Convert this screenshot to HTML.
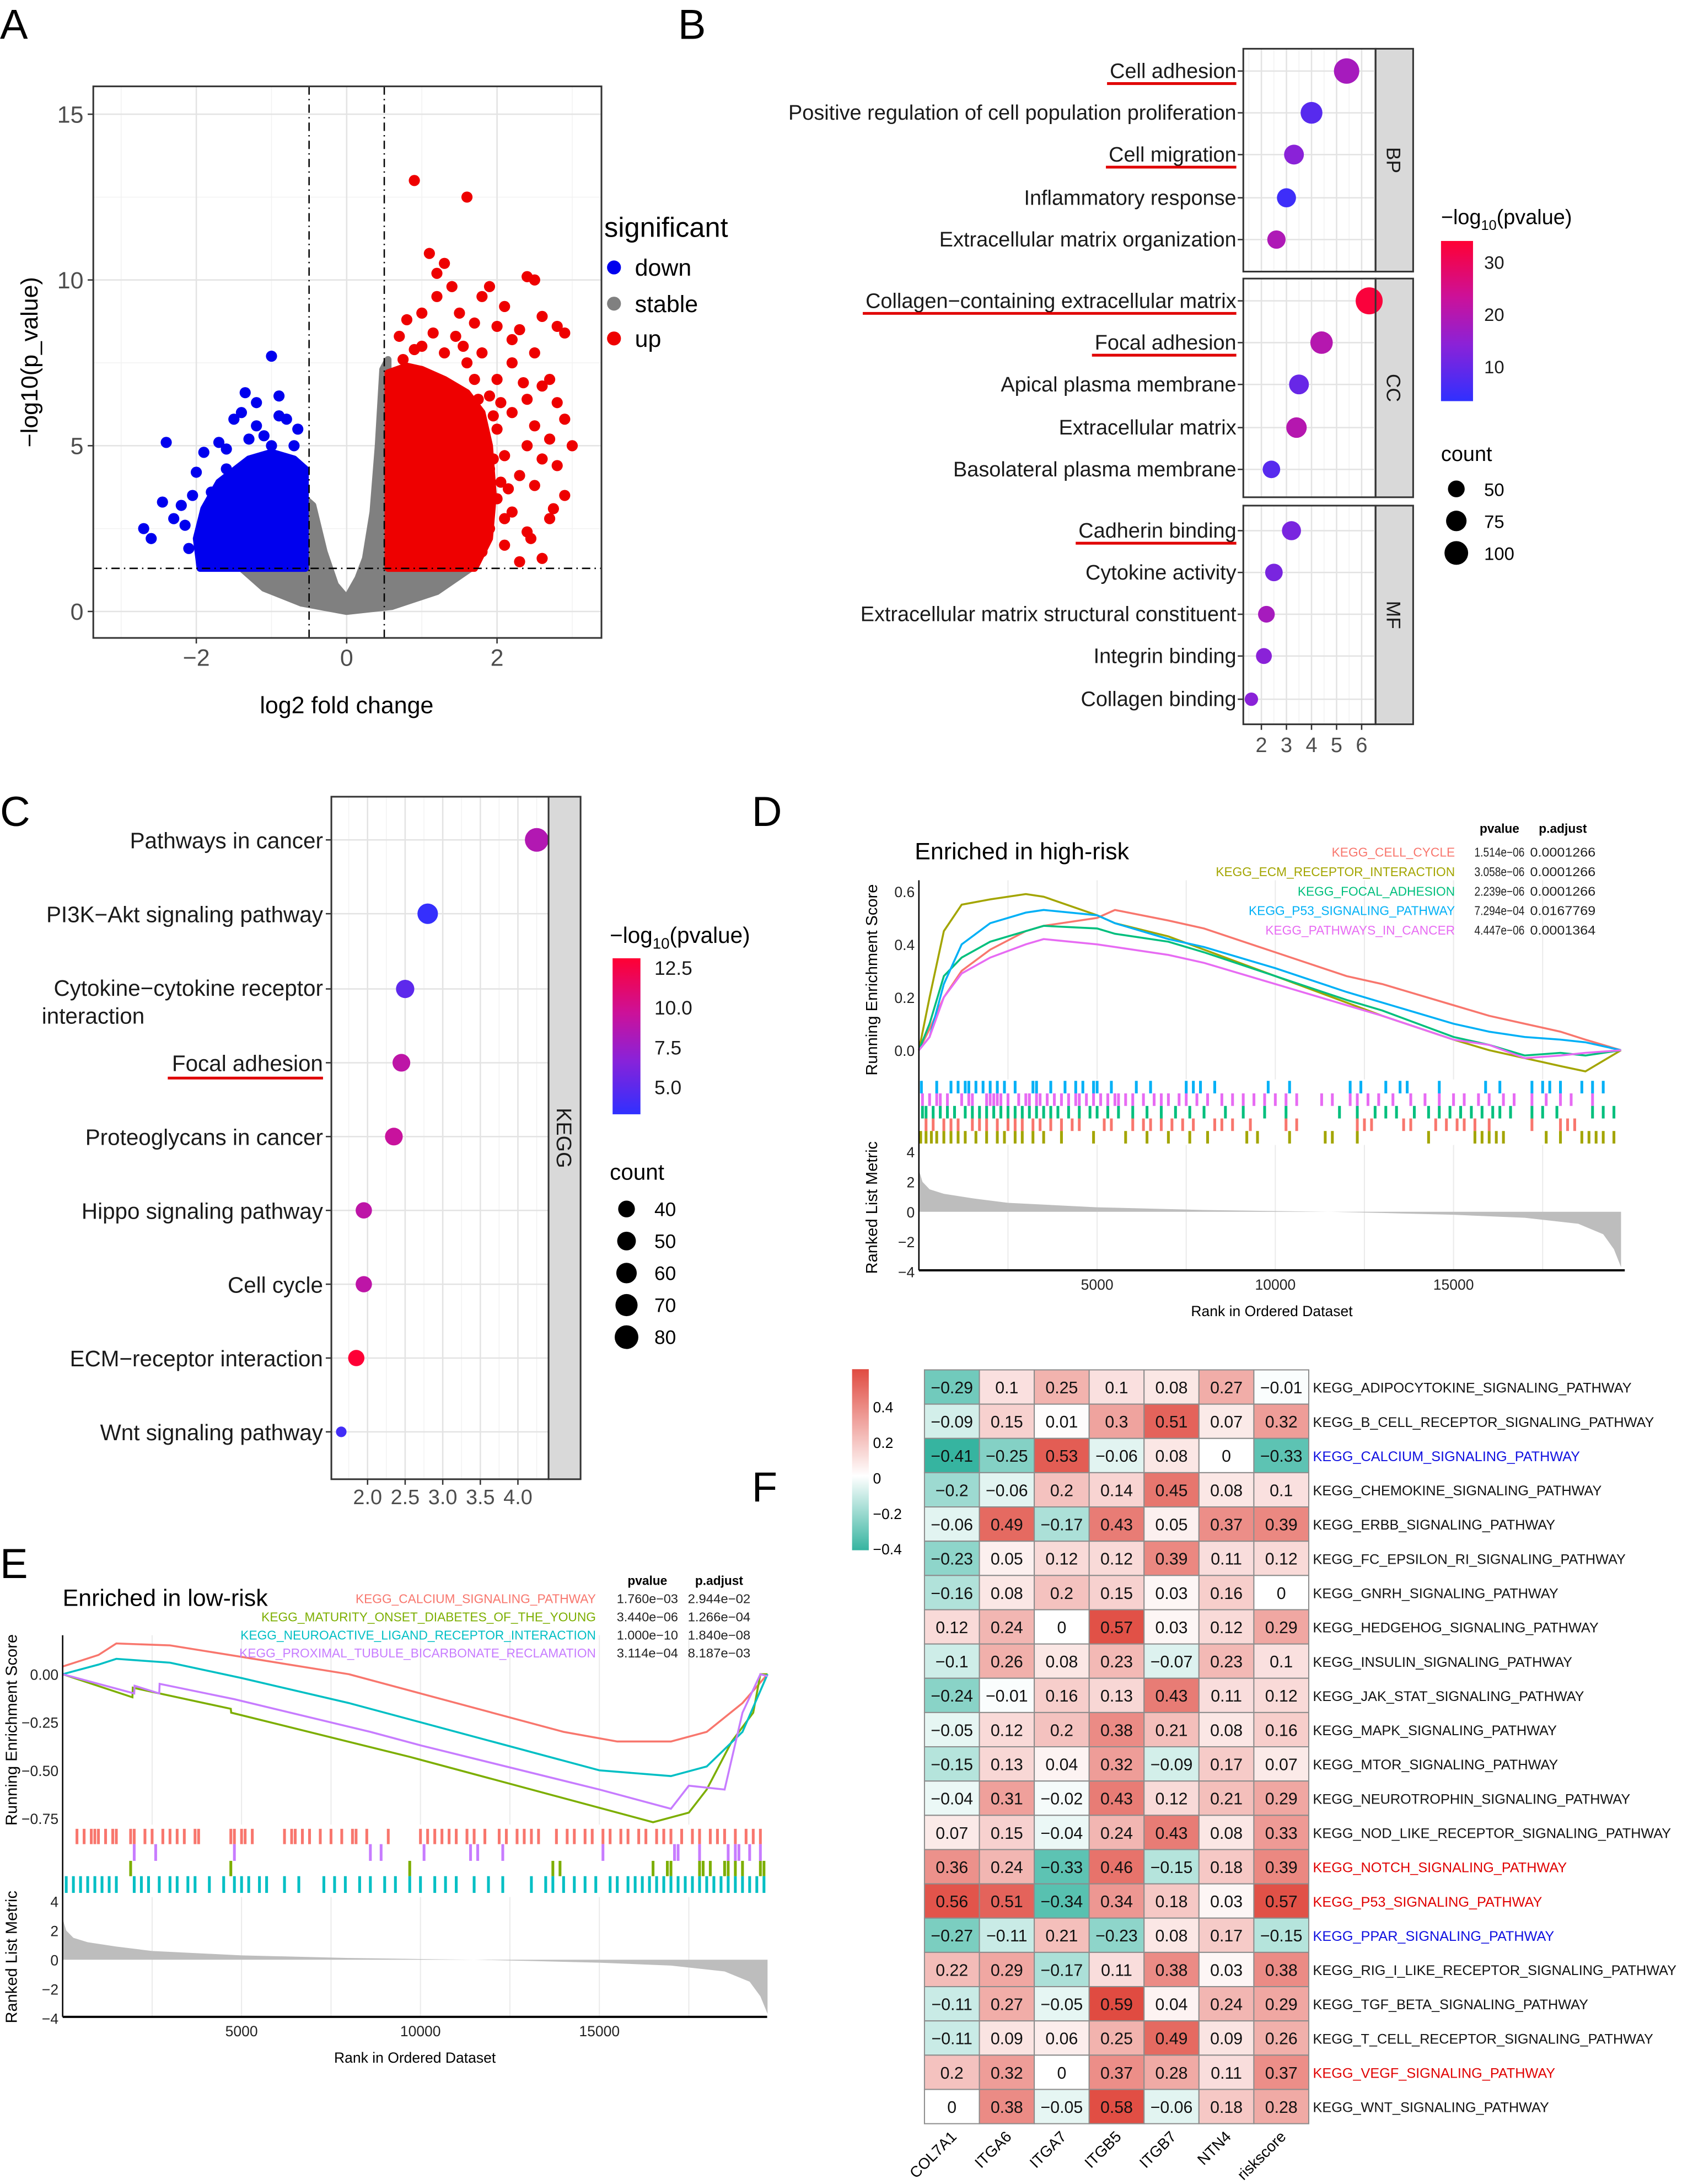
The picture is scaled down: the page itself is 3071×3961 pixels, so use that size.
<!DOCTYPE html>
<html><head><meta charset="utf-8"><title>Figure</title>
<style>
html,body{margin:0;padding:0;background:#fff;}
svg{display:block;font-family:"Liberation Sans",Arial,sans-serif;}
</style></head>
<body>
<svg id="fig" xmlns="http://www.w3.org/2000/svg" width="3071" height="3961" viewBox="0 0 1216 1568" preserveAspectRatio="none">
<defs>
<linearGradient id="gBR" x1="0" y1="1" x2="0" y2="0">
<stop offset="0" stop-color="#3030ff"/><stop offset="0.35" stop-color="#8a22d8"/><stop offset="0.65" stop-color="#cc1199"/><stop offset="1" stop-color="#ff0033"/>
</linearGradient>
<linearGradient id="gHM" x1="0" y1="1" x2="0" y2="0">
<stop offset="0" stop-color="#36b4a0"/><stop offset="0.41" stop-color="#ffffff"/><stop offset="1" stop-color="#e04b41"/>
</linearGradient>
</defs>
<rect x="0" y="0" width="1216" height="1568" fill="#fff"/>
<text x="0" y="28" font-size="30">A</text>
<text x="487" y="28" font-size="30">B</text>
<text x="0" y="593" font-size="30">C</text>
<text x="540" y="593" font-size="30">D</text>
<text x="0" y="1133" font-size="30">E</text>
<text x="540" y="1078" font-size="30">F</text>
</svg>
<script>
// ===== Panel A data =====
const volcUp=[[0.9,13],[1.6,12.5],[1.1,10.8],[1.3,10.5],[1.2,10.2],[2.5,10.0],[2.4,10.1],[1.4,9.8],[1.8,9.5],[2.1,9.2],[2.8,8.6],[2.6,8.9],[2.9,8.4],[2.0,8.6],[1.7,8.7],[2.3,8.5],[1.0,9.0],[0.8,8.8],[2.2,7.5],[2.5,7.8],[2.7,7.0],[2.6,6.8],[2.4,6.4],[2.8,6.3],[2.2,6.0],[2.9,5.8],[2.5,5.6],[2.0,5.5],[2.7,5.2],[3.0,5.0],[2.4,5.0],[2.1,4.7],[2.6,4.6],[2.8,4.4],[1.9,4.3],[2.3,4.1],[2.5,3.8],[2.9,3.5],[2.0,3.4],[2.2,3.0],[2.7,2.8],[1.9,2.5],[2.4,2.4],[2.1,2.0],[1.8,1.8],[2.6,1.6],[2.3,1.5],[1.9,6.5],[2.0,7.0],[1.8,7.8],[2.2,8.2],[1.5,9.0],[1.9,9.8],[1.2,9.5],[0.7,8.3],[2.75,3.1],[2.45,2.2],[2.15,3.7],[1.95,5.9],[2.35,6.9],[1.6,7.5],[1.3,7.8],[1.0,8.0],[1.45,8.3],[0.75,7.6],[1.7,7.0],[2.05,6.3],[1.85,5.2],[2.1,2.8],[0.9,7.9],[1.15,8.4],[1.55,8.0],[1.75,6.4],[1.95,4.6],[2.05,3.9]];
const volcDown=[[-2.7,2.5],[-2.6,2.2],[-2.4,5.1],[-2.3,2.8],[-2.2,3.2],[-2.1,1.9],[-2.0,4.2],[-1.9,4.8],[-1.8,3.6],[-1.7,5.1],[-1.6,4.3],[-1.5,5.8],[-1.4,6.0],[-1.3,5.2],[-1.2,5.6],[-1.2,6.3],[-1.0,7.7],[-0.9,6.5],[-0.8,5.8],[-0.7,5.0],[-1.1,5.3],[-1.55,3.9],[-2.45,3.3],[-2.15,2.6],[-1.35,6.6],[-0.65,5.5],[-0.9,5.9],[-1.0,5.0],[-1.6,4.9],[-2.05,3.5]];
const upCloud=[[0.55,1.3],[0.55,7.2],[0.8,7.4],[1.0,7.3],[1.3,7.0],[1.6,6.6],[1.8,6.0],[1.9,5.0],[1.95,3.5],[1.9,2.2],[1.7,1.3]];
const downCloud=[[-0.55,1.3],[-0.55,4.3],[-0.7,4.6],[-1.0,4.8],[-1.3,4.6],[-1.7,3.9],[-1.9,3.1],[-2.0,2.2],[-1.95,1.3]];
const stableCloud=[[-1.4,1.3],[-1.1,0.7],[-0.6,0.25],[0,0],[0.6,0.15],[1.2,0.6],[1.65,1.3],[0.55,1.3],[0.55,7.6],[0.48,7.3],[0.42,5.0],[0.35,3.0],[0.25,1.6],[0.15,1.0],[0,0.4],[-0.15,0.8],[-0.3,1.8],[-0.45,3.2],[-0.55,3.4],[-0.55,1.3]];
const volcXTicks=[-2,0,2];
const volcYTicks=[0,5,10,15];
// ===== Panel B data =====
const goTerms=["Cell adhesion","Positive regulation of cell population proliferation","Cell migration","Inflammatory response","Extracellular matrix organization","Collagen−containing extracellular matrix","Focal adhesion","Apical plasma membrane","Extracellular matrix","Basolateral plasma membrane","Cadherin binding","Cytokine activity","Extracellular matrix structural constituent","Integrin binding","Collagen binding"];
const goFacet=["BP","BP","BP","BP","BP","CC","CC","CC","CC","CC","MF","MF","MF","MF","MF"];
const goEnrich=[5.4,4.0,3.3,3.0,2.6,6.3,4.4,3.5,3.4,2.4,3.2,2.5,2.2,2.1,1.6];
const goLogP=[18,8,14,5,19,33,20,10,20,8,12,12,18,14,14];
const goCount=[115,85,70,65,60,130,90,70,75,55,65,55,50,45,32];
const goXTicks=[2,3,4,5,6];
const goUnderlined=["Cell adhesion","Cell migration","Collagen−containing extracellular matrix","Focal adhesion","Cadherin binding"];
// ===== Panel C data =====
const keggTerms=["Pathways in cancer","PI3K−Akt signaling pathway","Cytokine−cytokine receptor|interaction","Focal adhesion","Proteoglycans in cancer","Hippo signaling pathway","Cell cycle","ECM−receptor interaction","Wnt signaling pathway"];
const keggEnrich=[4.25,2.8,2.5,2.45,2.35,1.95,1.95,1.85,1.65];
const keggLogP=[8.5,3.5,5,9,9.5,9,9,13,4];
const keggCount=[80,60,48,45,45,38,38,38,16];
const keggXTicks=[2.0,2.5,3.0,3.5,4.0];
// ===== Panel D data =====
const dSets=["KEGG_CELL_CYCLE","KEGG_ECM_RECEPTOR_INTERACTION","KEGG_FOCAL_ADHESION","KEGG_P53_SIGNALING_PATHWAY","KEGG_PATHWAYS_IN_CANCER"];
const dPval=["1.514e−06","3.058e−06","2.239e−06","7.294e−04","4.447e−06"];
const dPadj=["0.0001266","0.0001266","0.0001266","0.0167769","0.0001364"];
const dRankK=[0,0.3,0.7,1.2,2,3,3.5,5,5.5,7,8,10,12,13,15,16,17,18,18.7,19.7];
const dEsRed=[0,0.08,0.2,0.3,0.38,0.45,0.47,0.5,0.53,0.49,0.46,0.37,0.28,0.25,0.17,0.13,0.1,0.07,0.04,0];
const dEsOlive=[0,0.2,0.45,0.55,0.57,0.59,0.58,0.51,0.48,0.43,0.38,0.28,0.18,0.13,0.04,0.0,-0.03,-0.06,-0.08,0];
const dEsGreen=[0,0.1,0.28,0.35,0.41,0.45,0.47,0.46,0.44,0.41,0.37,0.28,0.19,0.15,0.05,0.02,-0.02,-0.01,-0.02,0];
const dEsBlue=[0,0.05,0.25,0.4,0.48,0.52,0.53,0.51,0.48,0.42,0.39,0.31,0.22,0.18,0.1,0.07,0.05,0.04,0.03,0];
const dEsPink=[0,0.05,0.2,0.29,0.35,0.4,0.42,0.4,0.39,0.36,0.33,0.25,0.17,0.13,0.04,0.02,-0.03,-0.02,-0.01,0];
const dHitsBlue=[0.07,0.5,0.9,1.1,1.3,1.4,1.6,1.8,2.0,2.2,2.4,2.7,3.2,3.3,3.7,4.1,4.4,4.6,4.9,5.0,5.4,6.1,6.5,7.5,7.7,7.9,8.3,9.8,10.4,12.1,12.4,13.1,13.5,13.7,14.6,15.9,16.3,17.2,17.5,17.7,18.0,18.6,18.9,19.2];
const dHitsPink=[0.1,0.3,0.5,0.6,0.8,1.2,1.4,1.5,1.9,2.0,2.1,2.2,2.3,2.5,2.8,3.0,3.1,3.3,3.4,3.6,3.8,4.0,4.2,4.4,4.5,4.7,4.9,5.1,5.3,5.5,5.6,5.8,6.0,6.3,6.6,6.8,7.0,7.3,7.5,7.8,8.1,8.5,8.8,9.1,9.4,9.7,10.0,10.3,10.6,11.3,11.6,12.1,12.3,12.6,12.9,13.3,13.8,14.2,14.6,15.0,15.3,15.7,16.0,16.4,16.7,17.2,17.6,18.0,18.3,18.9];
const dHitsGreen=[0.1,0.2,0.4,0.6,0.8,1.0,1.3,1.5,1.7,1.9,2.1,2.3,2.5,2.7,2.9,3.1,3.3,3.5,3.7,3.9,4.2,4.5,4.8,5.0,5.3,5.6,6.0,6.4,6.8,7.2,7.6,8.0,8.6,9.1,9.7,10.3,11.8,12.3,12.8,13.1,13.4,13.9,14.3,14.6,14.9,15.2,15.5,15.8,16.1,16.3,16.6,17.2,17.5,17.9,18.9,19.2,19.5];
const dHitsRed=[0.2,0.4,0.7,0.9,1.1,1.5,1.7,1.9,2.2,2.5,2.7,2.9,3.2,3.4,3.7,4.0,4.3,4.5,5.2,5.4,6.0,6.3,6.5,6.8,7.1,7.4,7.7,8.3,8.5,8.8,9.3,10.3,10.6,12.3,12.5,12.7,13.6,13.8,14.5,14.8,15.1,15.3,15.6,16.0,17.2,18.0,18.2,18.4];
const dHitsOlive=[0.05,0.2,0.35,0.5,0.7,0.9,1.1,1.3,1.6,1.9,2.2,2.4,2.7,2.9,3.2,3.5,4.0,4.9,5.8,6.4,7.0,7.6,8.1,9.2,9.5,10.4,11.4,11.6,12.3,14.3,15.6,15.8,16.0,16.2,16.4,17.6,18.0,18.6,18.8,19.0,19.2,19.5];
const metricRankK=[0,0.1,0.3,0.7,1.5,2.5,5,8,10,11.5,13,15,17,18.5,19.2,19.5,19.7];
const metricVal=[2.8,2.0,1.5,1.2,0.9,0.6,0.3,0.12,0.05,0,-0.08,-0.2,-0.4,-0.8,-1.5,-2.5,-3.7];
const gseaXTicks=[5000,10000,15000];
const dYTicks=[0.0,0.2,0.4,0.6];
const metricYTicks=[4,2,0,-2,-4];
// ===== Panel E data =====
const eSets=["KEGG_CALCIUM_SIGNALING_PATHWAY","KEGG_MATURITY_ONSET_DIABETES_OF_THE_YOUNG","KEGG_NEUROACTIVE_LIGAND_RECEPTOR_INTERACTION","KEGG_PROXIMAL_TUBULE_BICARBONATE_RECLAMATION"];
const ePval=["1.760e−03","3.440e−06","1.000e−10","3.114e−04"];
const ePadj=["2.944e−02","1.266e−04","1.840e−08","8.187e−03"];
const eRankRed=[0,1,1.5,3,5,8,10,12,14,15.5,17,18,19,19.7];
const eEsRed=[0.04,0.1,0.16,0.15,0.09,0.0,-0.1,-0.2,-0.3,-0.35,-0.35,-0.3,-0.15,0];
const eRankCyan=[0,1,1.5,3,5,8,10,13,15,17,18,19,19.7];
const eEsCyan=[0,0.05,0.08,0.06,-0.02,-0.15,-0.25,-0.4,-0.5,-0.53,-0.48,-0.3,0];
const eRankOlive=[0,1.95,1.96,4.7,4.71,9.7,13.7,16.5,17.5,18.0,18.7,19.3,19.5,19.7];
const eEsOlive=[0,-0.12,-0.07,-0.18,-0.2,-0.43,-0.63,-0.77,-0.72,-0.6,-0.35,-0.2,0,0];
const eRankPurple=[0,2,2.01,2.7,2.71,4.8,8.6,10,15,17,17.5,18.5,19,19.5,19.7];
const eEsPurple=[0,-0.1,-0.06,-0.1,-0.05,-0.13,-0.3,-0.37,-0.6,-0.7,-0.58,-0.6,-0.2,0,-0.01];
const eHitsRed=[0.4,0.6,0.8,0.9,1.0,1.2,1.4,1.5,1.9,2.0,2.3,2.5,2.8,3.0,3.2,3.4,3.7,3.8,4.7,4.8,5.0,5.1,5.3,6.2,6.4,6.5,6.7,6.9,7.2,7.5,7.8,8.1,8.2,8.5,9.1,10.0,10.2,10.4,10.6,10.8,11.0,11.3,11.5,11.8,12.2,12.4,12.7,12.9,13.1,13.3,13.8,14.1,14.3,14.6,14.8,15.1,15.3,15.6,15.8,16.1,16.3,16.6,16.8,17.0,17.3,17.6,17.8,18.1,18.3,18.5,18.8,19.1,19.3,19.5];
const eHitsPurple=[2.0,2.6,4.8,8.6,8.9,10.1,11.4,11.6,12.3,15.1,17.1,17.2,17.8,18.6,18.8,18.9,19.2,19.5];
const eHitsOlive=[1.9,4.7,9.7,13.7,13.9,16.5,16.9,17.0,17.8,17.9,18.1,18.5,18.6,18.8,19.0,19.5,19.6];
const eHitsCyan=[0.1,0.3,0.5,0.7,0.9,1.1,1.3,1.5,2.0,2.2,2.4,2.7,3.0,3.2,3.5,3.7,4.1,4.5,4.8,5.0,5.2,5.5,5.7,6.2,6.6,7.3,7.6,7.9,8.3,8.6,9.0,9.3,9.7,10.0,10.4,10.7,11.0,11.5,11.9,12.3,13.1,13.5,13.7,14.0,14.3,14.6,14.9,15.3,15.5,15.8,16.0,16.2,16.4,16.6,16.8,17.0,17.2,17.4,17.6,17.8,18.0,18.2,18.4,18.6,18.8,19.0,19.2,19.4,19.6];
const eYTicks=[0.00,-0.25,-0.50,-0.75];
const eYTickLabels=["0.00","−0.25","−0.50","−0.75"];
// ===== Panel F data =====
const hmCols=["COL7A1","ITGA6","ITGA7","ITGB5","ITGB7","NTN4","riskscore"];
const hmRows=["KEGG_ADIPOCYTOKINE_SIGNALING_PATHWAY","KEGG_B_CELL_RECEPTOR_SIGNALING_PATHWAY","KEGG_CALCIUM_SIGNALING_PATHWAY","KEGG_CHEMOKINE_SIGNALING_PATHWAY","KEGG_ERBB_SIGNALING_PATHWAY","KEGG_FC_EPSILON_RI_SIGNALING_PATHWAY","KEGG_GNRH_SIGNALING_PATHWAY","KEGG_HEDGEHOG_SIGNALING_PATHWAY","KEGG_INSULIN_SIGNALING_PATHWAY","KEGG_JAK_STAT_SIGNALING_PATHWAY","KEGG_MAPK_SIGNALING_PATHWAY","KEGG_MTOR_SIGNALING_PATHWAY","KEGG_NEUROTROPHIN_SIGNALING_PATHWAY","KEGG_NOD_LIKE_RECEPTOR_SIGNALING_PATHWAY","KEGG_NOTCH_SIGNALING_PATHWAY","KEGG_P53_SIGNALING_PATHWAY","KEGG_PPAR_SIGNALING_PATHWAY","KEGG_RIG_I_LIKE_RECEPTOR_SIGNALING_PATHWAY","KEGG_TGF_BETA_SIGNALING_PATHWAY","KEGG_T_CELL_RECEPTOR_SIGNALING_PATHWAY","KEGG_VEGF_SIGNALING_PATHWAY","KEGG_WNT_SIGNALING_PATHWAY"];
const hmRowColor=["k","k","b","k","k","k","k","k","k","k","k","k","k","k","r","r","b","k","k","k","r","k"];
const hmVals=[
[-0.29,0.1,0.25,0.1,0.08,0.27,-0.01],
[-0.09,0.15,0.01,0.3,0.51,0.07,0.32],
[-0.41,-0.25,0.53,-0.06,0.08,0,-0.33],
[-0.2,-0.06,0.2,0.14,0.45,0.08,0.1],
[-0.06,0.49,-0.17,0.43,0.05,0.37,0.39],
[-0.23,0.05,0.12,0.12,0.39,0.11,0.12],
[-0.16,0.08,0.2,0.15,0.03,0.16,0],
[0.12,0.24,0,0.57,0.03,0.12,0.29],
[-0.1,0.26,0.08,0.23,-0.07,0.23,0.1],
[-0.24,-0.01,0.16,0.13,0.43,0.11,0.12],
[-0.05,0.12,0.2,0.38,0.21,0.08,0.16],
[-0.15,0.13,0.04,0.32,-0.09,0.17,0.07],
[-0.04,0.31,-0.02,0.43,0.12,0.21,0.29],
[0.07,0.15,-0.04,0.24,0.43,0.08,0.33],
[0.36,0.24,-0.33,0.46,-0.15,0.18,0.39],
[0.56,0.51,-0.34,0.34,0.18,0.03,0.57],
[-0.27,-0.11,0.21,-0.23,0.08,0.17,-0.15],
[0.22,0.29,-0.17,0.11,0.38,0.03,0.38],
[-0.11,0.27,-0.05,0.59,0.04,0.24,0.29],
[-0.11,0.09,0.06,0.25,0.49,0.09,0.26],
[0.2,0.32,0,0.37,0.28,0.11,0.37],
[0,0.38,-0.05,0.58,-0.06,0.18,0.28]];
const hmLegendTicks=[0.4,0.2,0,-0.2,-0.4];

// ===== helpers =====
const NS='http://www.w3.org/2000/svg';
const svg=document.getElementById('fig');
function mk(tag,attrs,parent){const e=document.createElementNS(NS,tag);for(const k in attrs)e.setAttribute(k,attrs[k]);(parent||svg).appendChild(e);return e;}
function tx(s,x,y,size,extra,parent){const a=Object.assign({x:x,y:y,'font-size':size},extra||{});const t=mk('text',a,parent);t.textContent=s;return t;}
function fmt(v){return String(v).replace('-','−');}
function lerp(a,b,t){return a+(b-a)*t;}
const brStops=[[0,[48,48,255]],[0.35,[138,34,216]],[0.65,[204,17,153]],[1,[255,0,51]]];
function brColor(t){t=Math.max(0,Math.min(1,t));for(let i=1;i<brStops.length;i++){if(t<=brStops[i][0]){const a=brStops[i-1],b=brStops[i];const u=(t-a[0])/(b[0]-a[0]);return 'rgb('+a[1].map((c,j)=>Math.round(lerp(c,b[1][j],u))).join(',')+')';}}return 'rgb(255,0,51)';}

// ===== Panel A =====
const gA=mk('g',{});


const xA=v=>249+v*54, yA=v=>439-v*23.8;
const pA={x0:67,y0:62,x1:432,y1:458};
[-3,-1,1,3].forEach(v=>{const l=mk('line',{x1:xA(v),x2:xA(v),y1:pA.y0,y2:pA.y1,stroke:'#f2f2f2','stroke-width':0.6},gA);

});
[2.5,7.5,12.5].forEach(v=>{const l=mk('line',{x1:pA.x0,x2:pA.x1,y1:yA(v),y2:yA(v),stroke:'#f2f2f2','stroke-width':0.6},gA);

});
volcXTicks.forEach(v=>{const l=mk('line',{x1:xA(v),x2:xA(v),y1:pA.y0,y2:pA.y1,stroke:'#e3e3e3','stroke-width':1},gA);


const tk=mk('line',{x1:xA(v),x2:xA(v),y1:pA.y1,y2:pA.y1+4,stroke:'#333','stroke-width':1},gA);


const t=tx(fmt(v),xA(v),478,17,{'text-anchor':'middle',fill:'#4d4d4d'},gA);

});
volcYTicks.forEach(v=>{const l=mk('line',{x1:pA.x0,x2:pA.x1,y1:yA(v),y2:yA(v),stroke:'#e3e3e3','stroke-width':1},gA);


const tk=mk('line',{x1:pA.x0-4,x2:pA.x0,y1:yA(v),y2:yA(v),stroke:'#333','stroke-width':1},gA);


const t=tx(String(v),60,yA(v)+6,17,{'text-anchor':'end',fill:'#4d4d4d'},gA);

});
function cloud(pts,col,name){const p=mk('polygon',{points:pts.map(q=>xA(q[0])+','+yA(q[1])).join(' '),fill:col,stroke:col,'stroke-width':5,'stroke-linejoin':'round'},gA);

}
cloud(stableCloud,'#808080','stable-point-cloud');
cloud(downCloud,'#0000ee','down-point-cloud');
cloud(upCloud,'#ee0000','up-point-cloud');
volcDown.forEach(q=>{const c=mk('circle',{cx:xA(q[0]),cy:yA(q[1]),r:4,fill:'#0000ee'},gA);

});
volcUp.forEach(q=>{const c=mk('circle',{cx:xA(q[0]),cy:yA(q[1]),r:4,fill:'#ee0000'},gA);

});
[[-0.5,'v'],[0.5,'v'],[1.3,'h']].forEach(d=>{let l;if(d[1]==='v')l=mk('line',{x1:xA(d[0]),x2:xA(d[0]),y1:pA.y0,y2:pA.y1,stroke:'#000','stroke-width':1,'stroke-dasharray':'6,3,1,3'},gA);else l=mk('line',{x1:pA.x0,x2:pA.x1,y1:yA(d[0]),y2:yA(d[0]),stroke:'#000','stroke-width':1,'stroke-dasharray':'6,3,1,3'},gA);

});
const frA=mk('rect',{x:pA.x0,y:pA.y0,width:pA.x1-pA.x0,height:pA.y1-pA.y0,fill:'none',stroke:'#333','stroke-width':1.2},gA);


let tA=tx('log2 fold change',249,512,17,{'text-anchor':'middle'},gA);


tA=tx('−log10(p_value)',0,0,17,{'text-anchor':'middle',transform:'translate(27,260) rotate(-90)'},gA);


tA=tx('significant',434,170,20,{},gA);


[['down','#0000ee',192],['stable','#808080',218],['up','#ee0000',243]].forEach(e=>{const c=mk('circle',{cx:441,cy:e[2],r:5,fill:e[1]},gA);


const t=tx(e[0],456,e[2]+6,17,{},gA);

});

// ===== Panel B =====
const gB=mk('g',{});


const xB=v=>906+(v-2)*18;
const facetsB=[['BP',35,195],['CC',200,357],['MF',363,520]];
const rowYB=[51,81,111,142,172,216,246,276,307,337,381,411,441,471,502];
const logPMinB=3.3,logPMaxB=34;
facetsB.forEach(f=>{const r=mk('rect',{x:893,y:f[1],width:95,height:f[2]-f[1],fill:'#fff'},gB);


[1.5,2.5,3.5,4.5,5.5,6.5].forEach(v=>{const l=mk('line',{x1:xB(v),x2:xB(v),y1:f[1],y2:f[2],stroke:'#f2f2f2','stroke-width':0.6},gB);

});
goXTicks.forEach(v=>{const l=mk('line',{x1:xB(v),x2:xB(v),y1:f[1],y2:f[2],stroke:'#e3e3e3','stroke-width':1},gB);

});
const s=mk('rect',{x:988,y:f[1],width:27,height:f[2]-f[1],fill:'#d9d9d9',stroke:'#333','stroke-width':1.2},gB);


const st=tx(f[0],0,0,14,{'text-anchor':'middle',fill:'#1a1a1a',transform:'translate('+996+','+((f[1]+f[2])/2)+') rotate(90)'},gB);

});
goTerms.forEach((term,i)=>{const y=rowYB[i];
const l=mk('line',{x1:893,x2:988,y1:y,y2:y,stroke:'#e3e3e3','stroke-width':1},gB);


const tk=mk('line',{x1:889,x2:893,y1:y,y2:y,stroke:'#333','stroke-width':1},gB);


const t=tx(term,888,y+5,15,{'text-anchor':'end',fill:'#1a1a1a'},gB);


if(goUnderlined.indexOf(term)>=0){let w=term.length*7;try{w=t.getComputedTextLength();}catch(e){}
const u=mk('line',{x1:888-w-2,x2:888,y1:y+9,y2:y+9,stroke:'#e00000','stroke-width':2},gB);

}});
goTerms.forEach((term,i)=>{const c=mk('circle',{cx:xB(goEnrich[i]),cy:rowYB[i],r:Math.sqrt(goCount[i])*0.85,fill:brColor((goLogP[i]-logPMinB)/(logPMaxB-logPMinB))},gB);

});
facetsB.forEach(f=>{const b=mk('rect',{x:893,y:f[1],width:95,height:f[2]-f[1],fill:'none',stroke:'#333','stroke-width':1.2},gB);

});
goXTicks.forEach(v=>{const tk=mk('line',{x1:xB(v),x2:xB(v),y1:520,y2:524,stroke:'#333','stroke-width':1},gB);


const t=tx(String(v),xB(v),540,15,{'text-anchor':'middle',fill:'#4d4d4d'},gB);

});
let tB=mk('text',{x:1035,y:161,'font-size':15},gB);
tB.innerHTML='−log<tspan font-size="10" dy="4">10</tspan><tspan dy="-4">(pvalue)</tspan>';


const cbB=mk('rect',{x:1035,y:173,width:23,height:115,fill:'url(#gBR)'},gB);


[30,20,10].forEach(v=>{const y=288-(v-logPMinB)/(logPMaxB-logPMinB)*115;
const t=tx(String(v),1066,y+5,13,{fill:'#1a1a1a'},gB);

});
tB=tx('count',1035,331,15,{},gB);


[[50,351],[75,374],[100,397]].forEach(e=>{const c=mk('circle',{cx:1046,cy:e[1],r:Math.sqrt(e[0])*0.85,fill:'#000'},gB);


const t=tx(String(e[0]),1066,e[1]+5,13,{},gB);

});

// ===== Panel C =====
const gC=mk('g',{});


const xC=v=>264+(v-2)*54;
const rowYC=[603,656,710,763,816,869,922,975,1028];
const logPMinC=3.3,logPMaxC=13.1;
const pC=mk('rect',{x:238,y:572,width:156,height:490,fill:'#fff'},gC);


[1.75,2.25,2.75,3.25,3.75,4.25].forEach(v=>{const l=mk('line',{x1:xC(v),x2:xC(v),y1:572,y2:1062,stroke:'#f2f2f2','stroke-width':0.6},gC);

});
keggXTicks.forEach(v=>{const l=mk('line',{x1:xC(v),x2:xC(v),y1:572,y2:1062,stroke:'#e3e3e3','stroke-width':1},gC);


const tk=mk('line',{x1:xC(v),x2:xC(v),y1:1062,y2:1066,stroke:'#333','stroke-width':1},gC);


const t=tx(v.toFixed(1),xC(v),1080,15,{'text-anchor':'middle',fill:'#4d4d4d'},gC);

});
keggTerms.forEach((term,i)=>{const y=rowYC[i];
const l=mk('line',{x1:238,x2:394,y1:y,y2:y,stroke:'#e3e3e3','stroke-width':1},gC);


const tk=mk('line',{x1:234,x2:238,y1:y,y2:y,stroke:'#333','stroke-width':1},gC);


const parts=term.split('|');
if(parts.length===1){const t=tx(term,232,y+6,16,{'text-anchor':'end',fill:'#1a1a1a'},gC);


if(term==='Focal adhesion'){let w=110;try{w=t.getComputedTextLength();}catch(e){}
const u=mk('line',{x1:232-w-3,x2:232,y1:y+11,y2:y+11,stroke:'#e00000','stroke-width':2},gC);

}}
else{const t=tx(parts[0],232,y+5,16,{'text-anchor':'end',fill:'#1a1a1a'},gC);


const t2=tx(parts[1],30,y+25,16,{fill:'#1a1a1a'},gC);

}
const c=mk('circle',{cx:xC(keggEnrich[i]),cy:y,r:Math.sqrt(keggCount[i])*0.95,fill:brColor((keggLogP[i]-logPMinC)/(logPMaxC-logPMinC))},gC);

});
const bC=mk('rect',{x:238,y:572,width:156,height:490,fill:'none',stroke:'#333','stroke-width':1.2},gC);


const sC=mk('rect',{x:394,y:572,width:23,height:490,fill:'#d9d9d9',stroke:'#333','stroke-width':1.2},gC);


let tC=tx('KEGG',0,0,15,{'text-anchor':'middle',fill:'#1a1a1a',transform:'translate(400,817) rotate(90)'},gC);


tC=mk('text',{x:438,y:677,'font-size':16},gC);
tC.innerHTML='−log<tspan font-size="11" dy="4">10</tspan><tspan dy="-4">(pvalue)</tspan>';


const cbC=mk('rect',{x:440,y:688,width:20,height:112,fill:'url(#gBR)'},gC);


[12.5,10.0,7.5,5.0].forEach(v=>{const y=800-(v-logPMinC)/(logPMaxC-logPMinC)*112;
const t=tx(v.toFixed(1),470,y+5,14,{fill:'#1a1a1a'},gC);

});
tC=tx('count',438,847,16,{},gC);


[[40,868],[50,891],[60,914],[70,937],[80,960]].forEach(e=>{const c=mk('circle',{cx:450,cy:e[1],r:Math.sqrt(e[0])*0.95,fill:'#000'},gC);


const t=tx(String(e[0]),470,e[1]+5,14,{},gC);

});

// ===== GSEA generic =====
function gsea(cfg){
const g=mk('g',{});


const xR=r=>cfg.x0+r*cfg.xs;
[2500,5000,7500,10000,12500,15000,17500].forEach(r=>{[[cfg.esTop,cfg.esBot],[cfg.mTop,cfg.mBot]].forEach(seg=>{const l=mk('line',{x1:xR(r),x2:xR(r),y1:seg[0],y2:seg[1],stroke:'#ebebeb','stroke-width':0.8},g);

});});
let d='M'+xR(0)+','+cfg.yM(0);
metricRankK.forEach((r,i)=>{d+=' L'+xR(r*1000)+','+cfg.yM(metricVal[i]);});
d+=' L'+xR(metricRankK[metricRankK.length-1]*1000)+','+cfg.yM(0)+' Z';
const a=mk('path',{d:d,fill:'#bdbdbd',stroke:'none'},g);


cfg.curves.forEach(c=>{const pts=c.r.map((r,i)=>xR(r*1000)+','+cfg.yE(c.v[i])).join(' ');
const p=mk('polyline',{points:pts,fill:'none',stroke:c.col,'stroke-width':1.4},g);

});
cfg.hits.forEach(h=>{h.r.forEach(r=>{const l=mk('rect',{x:xR(r*1000)-1,y:h.y0,width:2,height:h.y1-h.y0,fill:h.col},g);

});});
const ax=mk('line',{x1:cfg.x0,x2:cfg.x0,y1:cfg.esTop,y2:cfg.mBot,stroke:'#000','stroke-width':1},g);


const bx=mk('line',{x1:cfg.x0,x2:cfg.x1,y1:cfg.mBot,y2:cfg.mBot,stroke:'#000','stroke-width':1.6},g);


cfg.esTicks.forEach((v,i)=>{const t=tx(cfg.esLabels[i],cfg.x0-3,cfg.yE(v)+4,10.5,{'text-anchor':'end',fill:'#222'},g);

});
metricYTicks.forEach(v=>{const t=tx(fmt(v),cfg.x0-3,cfg.yM(v)+4,10.5,{'text-anchor':'end',fill:'#222'},g);

});
gseaXTicks.forEach(r=>{const t=tx(String(r),xR(r),cfg.mBot+14,10.5,{'text-anchor':'middle',fill:'#222'},g);

});
let t=tx('Rank in Ordered Dataset',(cfg.x0+cfg.x1)/2,cfg.mBot+33,10.5,{'text-anchor':'middle'},g);


t=tx('Running Enrichment Score',0,0,11.5,{'text-anchor':'middle',transform:'translate('+cfg.ytX+','+((cfg.esTop+cfg.esBot)/2)+') rotate(-90)'},g);


t=tx('Ranked List Metric',0,0,11.5,{'text-anchor':'middle',transform:'translate('+cfg.ytX+','+((cfg.mTop+cfg.mBot)/2)+') rotate(-90)'},g);


t=tx(cfg.title,cfg.titleX,cfg.titleY,17,{},g);


t=tx('pvalue',cfg.pX+cfg.pW/2,cfg.hdrY,9,{'text-anchor':'middle','font-weight':'bold'},g);


t=tx('p.adjust',cfg.paX+cfg.paW/2,cfg.hdrY,9,{'text-anchor':'middle','font-weight':'bold'},g);


cfg.sets.forEach((s,i)=>{const y=cfg.legY0+i*cfg.legDy;
let e=tx(s,cfg.nameX,y,9,{'text-anchor':'end',fill:cfg.curves[i].col},g);


e=tx(cfg.pv[i],cfg.pX,y,9,{fill:'#222',textLength:cfg.pW,lengthAdjust:'spacingAndGlyphs'},g);


e=tx(cfg.pa[i],cfg.paX,y,9,{fill:'#222',textLength:cfg.paW,lengthAdjust:'spacingAndGlyphs'},g);

});
}
gsea({name:'gsea-high-risk',x0:660,x1:1167,xs:128/5000,esTop:632,esBot:775,mTop:822,mBot:912,
yE:v=>754-v*190,yM:v=>870-v*10.75,ytX:630,
esTicks:dYTicks,esLabels:['0.0','0.2','0.4','0.6'],
title:'Enriched in high-risk',titleX:657,titleY:617,
sets:dSets,pv:dPval,pa:dPadj,nameX:1045,pX:1059,pW:36,paX:1099,paW:47,hdrY:598,legY0:615,legDy:14,
curves:[{r:dRankK,v:dEsRed,col:'#F8766D'},{r:dRankK,v:dEsOlive,col:'#A3A500'},{r:dRankK,v:dEsGreen,col:'#00BF7D'},{r:dRankK,v:dEsBlue,col:'#00B0F6'},{r:dRankK,v:dEsPink,col:'#E76BF3'}],
hits:[{r:dHitsBlue,col:'#00B0F6',y0:776,y1:785},{r:dHitsPink,col:'#E76BF3',y0:785,y1:794},{r:dHitsGreen,col:'#00BF7D',y0:794,y1:803},{r:dHitsRed,col:'#F8766D',y0:803,y1:812},{r:dHitsOlive,col:'#A3A500',y0:812,y1:821}]});
gsea({name:'gsea-low-risk',x0:45,x1:551,xs:128.5/5000,esTop:1174,esBot:1310,mTop:1362,mBot:1448,
yE:v=>1202-v*138,yM:v=>1407-v*10.5,ytX:12,
esTicks:eYTicks,esLabels:eYTickLabels,
title:'Enriched in low-risk',titleX:45,titleY:1153,
sets:eSets,pv:ePval,pa:ePadj,nameX:428,pX:443,pW:44,paX:494,paW:45,hdrY:1138,legY0:1151,legDy:13,
curves:[{r:eRankRed,v:eEsRed,col:'#F8766D'},{r:eRankOlive,v:eEsOlive,col:'#7CAE00'},{r:eRankCyan,v:eEsCyan,col:'#00BFC4'},{r:eRankPurple,v:eEsPurple,col:'#C77CFF'}],
hits:[{r:eHitsRed,col:'#F8766D',y0:1313,y1:1324},{r:eHitsPurple,col:'#C77CFF',y0:1324,y1:1336},{r:eHitsOlive,col:'#7CAE00',y0:1336,y1:1347},{r:eHitsCyan,col:'#00BFC4',y0:1347,y1:1359}]});

// ===== Panel F heatmap =====
const gF=mk('g',{});


const hmX0=664,hmY0=983.5,cw=39.43,ch=24.6;
function hmColor(v){let c;if(v>=0){const t=Math.min(1,v/0.59);c=[255,255,255].map((a,j)=>Math.round(lerp(a,[224,75,65][j],t)));}else{const t=Math.min(1,-v/0.41);c=[255,255,255].map((a,j)=>Math.round(lerp(a,[54,180,160][j],t)));}return 'rgb('+c.join(',')+')';}
hmVals.forEach((row,i)=>{row.forEach((v,j)=>{const r=mk('rect',{x:hmX0+j*cw,y:hmY0+i*ch,width:cw,height:ch,fill:hmColor(v),stroke:'#8c8c8c','stroke-width':0.8},gF);


const t=tx(fmt(v),hmX0+j*cw+cw/2,hmY0+i*ch+ch/2+4.5,12,{'text-anchor':'middle',fill:'#111'},gF);

});
const col=hmRowColor[i]==='r'?'#e00000':(hmRowColor[i]==='b'?'#1010e0':'#111');
const lt=tx(hmRows[i],hmX0+7*cw+3,hmY0+i*ch+ch/2+4,10,{fill:col},gF);

});
hmCols.forEach((c,j)=>{const x=hmX0+j*cw+cw/2+4;
const t=tx(c,0,0,11,{'text-anchor':'end',transform:'translate('+x+','+(hmY0+hmVals.length*ch+10)+') rotate(-45)'},gF);

});
const cbF=mk('rect',{x:612,y:983,width:12,height:130,fill:'url(#gHM)'},gF);


hmLegendTicks.forEach(v=>{const y=1061-v*127.5;
const t=tx(fmt(v),627,y+4,10.5,{},gF);

});
</script>
</body></html>
